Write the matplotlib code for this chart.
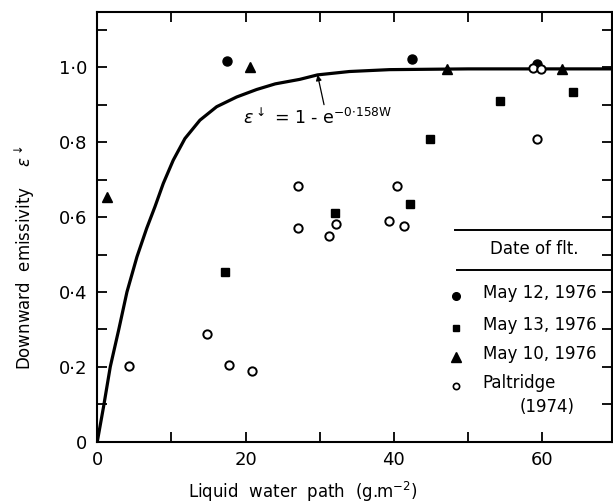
import numpy as np
import matplotlib
matplotlib.use("Agg")
import matplotlib.pyplot as plt

plt.rcParams['font.family'] = ['DejaVu Sans']
plt.rcParams['mathtext.fontset'] = 'dejavusans'

# data
may12_w = [17.5, 42.5, 59.3]
may12_e = [1.018, 1.022, 1.009]

may13_w = [17.25, 32.1, 42.2, 44.8, 54.3, 64.1]
may13_e = [0.453, 0.612, 0.635, 0.808, 0.911, 0.935]

may10_w = [1.3, 20.6, 47.1, 62.6]
may10_e = [0.655, 1.0, 0.995, 0.995]

paltridge_w = [4.3, 14.8, 17.8, 20.85, 27.0, 27.0, 31.2, 32.2, 39.3, 40.4, 41.3, 58.8, 59.8, 59.3]
paltridge_e = [0.203, 0.287, 0.205, 0.188, 0.683, 0.570, 0.549, 0.581, 0.589, 0.683, 0.576, 0.998, 0.995, 0.809]

# the drawn fit curve (eps = 1 - exp(-0.158 W))
curve_w = [0, 0.86, 1.75, 2.9, 4.0, 5.35, 6.66, 7.78, 8.9, 10.24, 11.82, 13.84, 16.1,
           18.8, 21.5, 24.0, 27.3, 29.7, 34, 39.4, 50, 60, 69.4]
curve_e = [0, 0.095, 0.2, 0.3, 0.4, 0.494, 0.570, 0.628, 0.690, 0.752, 0.810, 0.859, 0.895,
           0.921, 0.941, 0.956, 0.968, 0.980, 0.989, 0.994, 0.996, 0.996, 0.996]

xticks = [0, 20, 40, 60]
xtick_labels = ['0', '20', '40', '60']
yticks = [0, 0.2, 0.4, 0.6, 0.8, 1.0]
ytick_labels = ['0', '0·2', '0·4', '0·6', '0·8', '1·0']

legend_labels = ['May 12, 1976', 'May 13, 1976', 'May 10, 1976', 'Paltridge']

fig = plt.figure(figsize=(6.13, 5.04), dpi=100)
ax = fig.add_axes([0.1587, 0.1236, 0.8396, 0.8526])

ax.plot(curve_w, curve_e, color='black', lw=2.3, zorder=2, solid_joinstyle='round')

ax.plot(may12_w, may12_e, 'o', color='black', ms=6.5, zorder=3)
ax.plot(may13_w, may13_e, 's', color='black', ms=5.6, zorder=3)
ax.plot(may10_w, may10_e, '^', color='black', ms=7.2, zorder=3)
ax.plot(paltridge_w, paltridge_e, 'o', mfc='white', mec='black', mew=1.4, ms=6, zorder=4)

ax.set_xlim(0, 69.4)
ax.set_ylim(0, 1.148)
ax.set_xticks(np.arange(0, 70, 10), minor=True)
ax.set_xticks(xticks)
ax.set_xticklabels(xtick_labels)
ax.set_yticks(np.arange(0, 1.15, 0.1), minor=True)
ax.set_yticks(yticks)
ax.set_yticklabels(ytick_labels)
ax.tick_params(which='both', direction='in', length=7, width=1.3,
               top=True, right=True, labelsize=13, pad=7)
for s in ax.spines.values():
    s.set_linewidth(1.5)

# annotation with arrow
ax.annotate(r'$\epsilon^{\downarrow}$ = 1 - $\mathrm{e}^{\mathrm{-0{\cdot}158W}}$',
            xy=(29.7, 0.98), xytext=(19.6, 0.85),
            fontsize=12.5, ha='left', va='baseline',
            arrowprops=dict(arrowstyle='-|>', color='black', lw=0.9,
                            shrinkA=0, shrinkB=0, mutation_scale=8,
                            relpos=(0.55, 1.0)))

# legend drawn by hand
tr = ax.transAxes
ax.plot([0.695, 1.0], [0.4927, 0.4927], color='black', lw=1.4, transform=tr, clip_on=False)
ax.plot([0.699, 1.0], [0.3995, 0.3995], color='black', lw=1.4, transform=tr, clip_on=False)
ax.text(0.849, 0.449, 'Date of flt.', transform=tr, ha='center', va='center', fontsize=12)
mk = [dict(marker='o', color='black', ms=5.5),
      dict(marker='s', color='black', ms=5),
      dict(marker='^', color='black', ms=6.5),
      dict(marker='o', mfc='white', mec='black', mew=1.2, ms=4.5)]
rows = [0.346, 0.272, 0.204, 0.137]
for lab, st, yy in zip(legend_labels, mk, rows):
    ax.plot([0.697], [yy - 0.008], transform=tr, linestyle='none', clip_on=False, **st)
    ax.text(0.749, yy, lab, transform=tr, ha='left', va='center', fontsize=12)
ax.text(0.821, 0.081, '(1974)', transform=tr, ha='left', va='center', fontsize=12)

fig.text(0.041, 0.49, r'Downward  emissivity    $\epsilon^{\downarrow}$',
         rotation=90, ha='center', va='center', fontsize=12)
fig.text(0.494, 0.011, r'Liquid  water  path  (g.m$^{-2}$)',
         ha='center', va='baseline', fontsize=12)

fig.savefig('out.png', dpi=100)
